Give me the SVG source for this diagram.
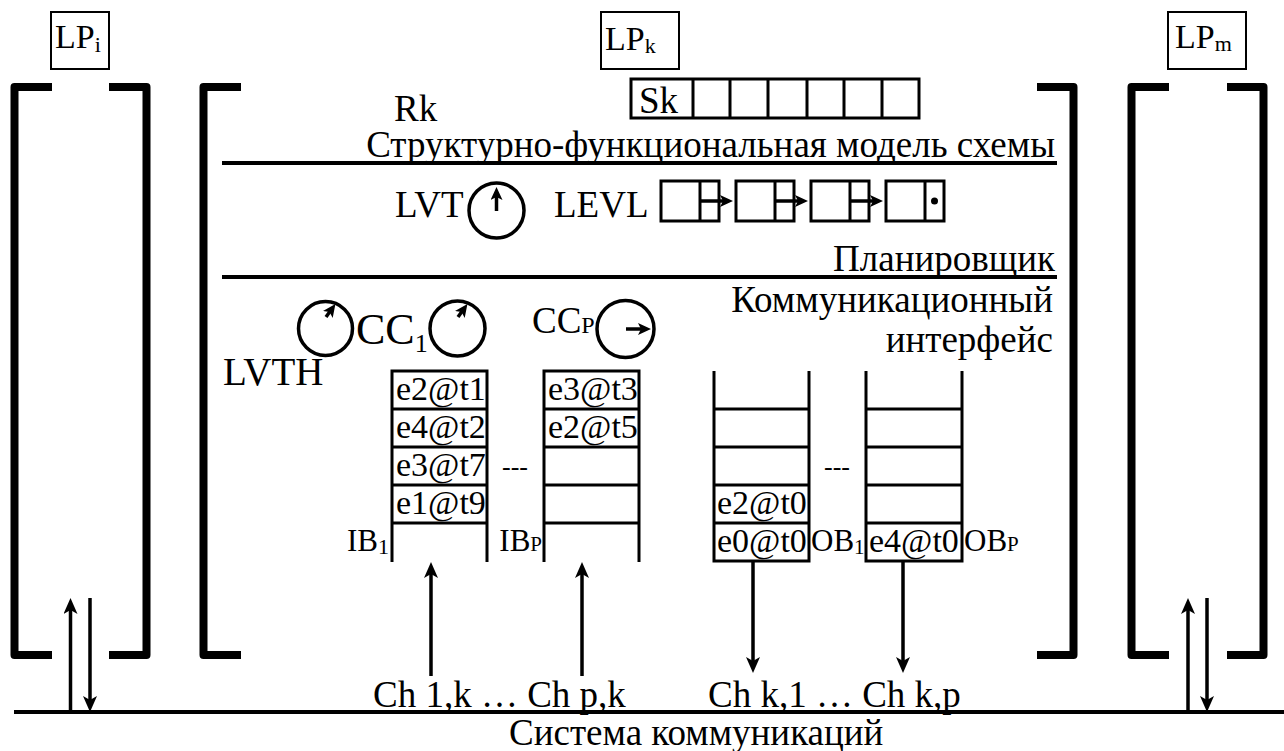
<svg xmlns="http://www.w3.org/2000/svg" width="1284" height="751" viewBox="0 0 1284 751" font-family="'Liberation Serif', 'DejaVu Serif', serif">
<style>
text{font-family:"Liberation Serif","DejaVu Serif",serif;fill:#000}
.t36{font-size:37px}
.lbl{font-size:34px}
.iob{font-size:31px}
.cell{font-size:34px}
.dash{font-size:26px}
.brk{fill:none;stroke:#000;stroke-width:8;stroke-linejoin:round}
.sep{stroke:#000;stroke-width:4}
.buf{fill:none;stroke:#000;stroke-width:3}
.box{fill:#fff;stroke:#000;stroke-width:2}
.arr{stroke:#000;stroke-width:3.5;fill:none}
.clk{fill:none;stroke:#000;stroke-width:3.5}
</style>
<defs>
<marker id="ah" viewBox="0 0 16 14" refX="10" refY="7" markerWidth="16" markerHeight="14" markerUnits="userSpaceOnUse" orient="auto">
<path d="M0,0 L16,7 L0,14 L4,7 z" fill="#000"/>
</marker>
<marker id="ahs" viewBox="0 0 13 12" refX="8" refY="6" markerWidth="13" markerHeight="12" markerUnits="userSpaceOnUse" orient="auto">
<path d="M0,0 L13,6 L0,12 L3,6 z" fill="#000"/>
</marker>
</defs>

<g id="lp-i">
<rect class="box" x="51" y="12" width="58" height="57"/>
<text class="lbl" x="55" y="48">LP<tspan font-size="22" dy="4">i</tspan></text>
<path class="brk" d="M52,87 H14.5 V655 H52"/>
<path class="brk" d="M109,87 H146.5 V655 H109"/>
</g>

<g id="lp-m">
<rect class="box" x="1168" y="12" width="78" height="57"/>
<text class="lbl" x="1175" y="48">LP<tspan font-size="22" dy="3">m</tspan></text>
<path class="brk" d="M1169,87 H1131.5 V655 H1169"/>
<path class="brk" d="M1227,87 H1263.5 V655 H1227"/>
</g>

<g id="lp-k">
<rect class="box" x="601" y="12" width="78" height="57"/>
<text class="lbl" x="605" y="50">LP<tspan font-size="22" dy="3">k</tspan></text>
<path class="brk" d="M241,87 H203.5 V655 H241"/>
<path class="brk" d="M1037,87 H1073.5 V655 H1037"/>
</g>

<g id="sk-array">
<rect x="631" y="79" width="288" height="39" fill="none" stroke="#000" stroke-width="3"/>
<path d="M693,79 V118 M730,79 V118 M768,79 V118 M807,79 V118 M844,79 V118 M882,79 V118" stroke="#000" stroke-width="3"/>
<text class="t36" x="639" y="113">Sk</text>
</g>

<g id="model">
<text class="t36" x="394" y="121">Rk</text>
<text class="t36" x="1055" y="157" text-anchor="end">Структурно-функциональная модель схемы</text>
<line class="sep" x1="222" y1="163" x2="1057" y2="163"/>
</g>

<g id="scheduler">
<text class="t36" x="395" y="217">LVT</text>
<circle class="clk" cx="496.5" cy="210.5" r="27.5"/>
<text class="t36" x="554" y="217">LEVL</text>
<g fill="none" stroke="#000" stroke-width="3">
<rect x="661" y="181" width="58" height="40"/><line x1="700" y1="181" x2="700" y2="221"/>
<rect x="736" y="181" width="58" height="40"/><line x1="775" y1="181" x2="775" y2="221"/>
<rect x="811" y="181" width="58" height="40"/><line x1="850" y1="181" x2="850" y2="221"/>
<rect x="886" y="181" width="58" height="40"/><line x1="925" y1="181" x2="925" y2="221"/>
</g>
<circle cx="934.5" cy="201" r="3.5" fill="#000"/>
<text class="t36" x="1055" y="271" text-anchor="end">Планировщик</text>
<line class="sep" x1="222" y1="277" x2="1057" y2="277"/>
</g>

<g id="comm-interface">
<text class="t36" x="1053" y="312" text-anchor="end">Коммуникационный</text>
<text class="t36" x="1053" y="352" text-anchor="end">интерфейс</text>
<circle class="clk" cx="325.5" cy="328.5" r="27"/>
<text class="t36" x="223" y="385" style="font-size:39px">LVTH</text>
<text class="t36" x="356" y="344" style="font-size:44px">CC<tspan font-size="26" dy="8">1</tspan></text>
<circle class="clk" cx="457.5" cy="328.5" r="27.5"/>
<text class="t36" x="532" y="333">CC<tspan font-size="24">P</tspan></text>
<circle class="clk" cx="625.5" cy="329" r="28.5"/>
</g>

<g id="ib1">
<path class="buf" d="M392,562 V371 H487 V562 M392,409 H487 M392,447 H487 M392,485 H487 M392,523 H487"/>
<text class="cell" x="396" y="400">e2@t1</text>
<text class="cell" x="396" y="438">e4@t2</text>
<text class="cell" x="396" y="476">e3@t7</text>
<text class="cell" x="396" y="514">e1@t9</text>
<text class="iob" x="389" y="551" text-anchor="end">IB<tspan font-size="22" dy="3">1</tspan></text>
</g>

<g id="ibp">
<path class="buf" d="M544,562 V371 H639 V562 M544,409 H639 M544,447 H639 M544,485 H639 M544,523 H639"/>
<text class="cell" x="548" y="400">e3@t3</text>
<text class="cell" x="548" y="438">e2@t5</text>
<text class="iob" x="542" y="551" text-anchor="end">IB<tspan font-size="21">P</tspan></text>
</g>

<text class="dash" x="502" y="475">---</text>

<g id="ob1">
<path class="buf" d="M714,371 V561 H809 V371 M714,409 H809 M714,447 H809 M714,485 H809 M714,523 H809"/>
<text class="cell" x="717" y="514">e2@t0</text>
<text class="cell" x="717" y="552">e0@t0</text>
<text class="iob" x="811" y="551">OB<tspan font-size="21" dy="3">1</tspan></text>
</g>

<text class="dash" x="824" y="475">---</text>

<g id="obp">
<path class="buf" d="M866,371 V561 H962 V371 M866,409 H962 M866,447 H962 M866,485 H962 M866,523 H962"/>
<text class="cell" x="869" y="552">e4@t0</text>
<text class="iob" x="964" y="551">OB<tspan font-size="21">P</tspan></text>
</g>

<g id="comm-system">
<line x1="14" y1="712" x2="1284" y2="712" stroke="#000" stroke-width="4"/>
<text class="t36" x="373" y="707">Ch 1,k … Ch p,k</text>
<text class="t36" x="708" y="707">Ch k,1 … Ch k,p</text>
<text class="t36" x="509" y="745">Система коммуникаций</text>
</g>

<g id="connectors">
<line class="arr" x1="70.5" y1="712" x2="70.5" y2="604" marker-end="url(#ah)"/>
<line class="arr" x1="90" y1="598" x2="90" y2="706" marker-end="url(#ah)"/>
<line class="arr" x1="1188" y1="712" x2="1188" y2="604" marker-end="url(#ah)"/>
<line class="arr" x1="1207" y1="598" x2="1207" y2="706" marker-end="url(#ah)"/>
<line class="arr" x1="431" y1="676" x2="431" y2="568" marker-end="url(#ah)"/>
<line class="arr" x1="582" y1="676" x2="582" y2="568" marker-end="url(#ah)"/>
<line class="arr" x1="753" y1="561" x2="753" y2="667" marker-end="url(#ah)"/>
<line class="arr" x1="903" y1="561" x2="903" y2="667" marker-end="url(#ah)"/>
<line class="arr" x1="700" y1="201" x2="728" y2="201" stroke-width="3" marker-end="url(#ahs)"/>
<line class="arr" x1="775" y1="201" x2="803" y2="201" stroke-width="3" marker-end="url(#ahs)"/>
<line class="arr" x1="850" y1="201" x2="878" y2="201" stroke-width="3" marker-end="url(#ahs)"/>
<line class="arr" x1="496.5" y1="211" x2="496.5" y2="192" stroke-width="3.5" marker-end="url(#ahs)"/>
<line class="arr" x1="326" y1="317" x2="332.5" y2="308" stroke-width="3.5" marker-end="url(#ahs)"/>
<line class="arr" x1="458" y1="317" x2="464.5" y2="308" stroke-width="3.5" marker-end="url(#ahs)"/>
<line class="arr" x1="626" y1="329" x2="646" y2="329" stroke-width="3.5" marker-end="url(#ahs)"/>
</g>
</svg>
